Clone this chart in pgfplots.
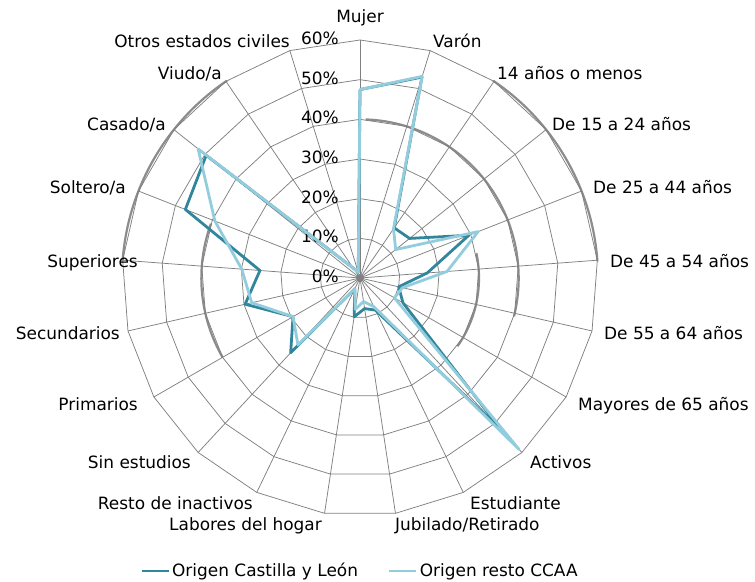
\documentclass[border=0pt]{standalone}
\usepackage{fontspec}
\setmainfont{DejaVu Sans}
\usepackage{pgfplots}
\usepackage{pgfplotstable}
\pgfplotsset{compat=1.18}
\usepgfplotslibrary{polar}
\usetikzlibrary{calc}
\definecolor{dk}{HTML}{31859C}
\definecolor{lt}{HTML}{93CDDD}
\definecolor{gr}{HTML}{808080}
\definecolor{arcc}{HTML}{8C8C8C}

\pgfplotstableread{
ang    cyl   resto
90     47.5  47.5
72.857 53.0  53.2
55.714 15.3  15.0
38.571 16.0  11.5
21.429 29.5  32.0
4.286  17.0  22.0
347.143 10.0 11.0
330    12.5  10.0
312.857 52.5 59.0
295.714 9.0  8.0
278.571 7.8  6.0
261.429 9.9  8.0
244.286 3.0  3.0
227.143 25.7 23.0
210    19.5  19.5
192.857 29.7 28.0
175.714 25.3 29.9
158.571 47.3 39.3
141.429 49.6 52.2
124.286 3.0  3.0
107.143 1.5  1.5
90     47.5  47.5
}\datatab

\newcommand{\ring}[1]{\addplot[gr, line width=0.75bp, forget plot, no marks] coordinates {(90,#1)(72.857,#1)(55.714,#1)(38.571,#1)(21.429,#1)(4.286,#1)(347.143,#1)(330,#1)(312.857,#1)(295.714,#1)(278.571,#1)(261.429,#1)(244.286,#1)(227.143,#1)(210,#1)(192.857,#1)(175.714,#1)(158.571,#1)(141.429,#1)(124.286,#1)(107.143,#1)(90,#1)};}

\begin{document}
\fontsize{17}{20}\selectfont
\begin{tikzpicture}[x=1bp,y=1bp]
\useasboundingbox (0,0) rectangle (755,582);
\begin{polaraxis}[
  at={(360bp,304bp)}, anchor=origin,
  scale only axis, width=476bp, height=476bp,
  xmin=0, xmax=360, ymin=0, ymax=60,
  hide axis, clip=false,
  legend columns=2,
  legend style={draw=none, fill=none, font=\fontsize{17}{20}\selectfont,
    at={(0.5,0)}, anchor=center, yshift=-55bp,
    /tikz/every even column/.append style={column sep=28bp},
    inner sep=0pt},
  legend image code/.code={\draw[#1] (0bp,0bp) -- (27bp,0bp);},
]
% thick gray arcs
\draw[arcc, line width=2.2bp] (axis cs:56,60) arc[start angle=56, end angle=4, radius=238bp];
\draw[arcc, line width=2.2bp] (axis cs:124,60) arc[start angle=124, end angle=176, radius=238bp];
\draw[arcc, line width=2.2bp] (axis cs:88,40) arc[start angle=88, end angle=-14, radius=158.67bp];
\draw[arcc, line width=2.2bp] (axis cs:160,40) arc[start angle=160, end angle=210, radius=158.67bp];
\draw[arcc, line width=2.2bp] (axis cs:12,30) arc[start angle=12, end angle=-35, radius=119bp];
% polygon grid
\ring{10}\ring{20}\ring{30}\ring{40}\ring{50}\ring{60}
\pgfplotsinvokeforeach{90,72.857,55.714,38.571,21.429,4.286,347.143,330,312.857,295.714,278.571,261.429,244.286,227.143,210,192.857,175.714,158.571,141.429,124.286,107.143}{
  \addplot[gr, line width=0.75bp, forget plot, no marks] coordinates {(#1,0)(#1,60)};
}
\fill[gr] (axis cs:0,0) circle[radius=4bp];
% tick labels
\pgfplotsinvokeforeach{0,10,20,30,40,50,60}{
  \node[anchor=mid east, inner sep=0pt, xshift=-21bp] at (axis cs:90,#1) {#1\%};
}
\addplot[dk, line width=2.8bp, no marks, line join=round] table[x=ang, y=cyl] {\datatab};
\addlegendentry{Origen Castilla y León}
\addplot[lt, line width=2.8bp, no marks, line join=round] table[x=ang, y=resto] {\datatab};
\addlegendentry{Origen resto CCAA}
\end{polaraxis}
\begin{scope}[every node/.style={inner sep=0pt}]
\node[anchor=center] at (360,564) {Mujer};
\node[anchor=mid west] at (433,539) {Varón};
\node[anchor=mid west] at (497,507) {14 años o menos};
\node[anchor=mid west] at (552,456) {De 15 a 24 años};
\node[anchor=mid west] at (593,393) {De 25 a 44 años};
\node[anchor=mid west] at (610,319) {De 45 a 54 años};
\node[anchor=mid west] at (604,247) {De 55 a 64 años};
\node[anchor=mid west] at (578,176) {Mayores de 65 años};
\node[anchor=mid west] at (530,118) {Activos};
\node[anchor=mid west] at (470,77) {Estudiante};
\node[anchor=mid west] at (395,56) {Jubilado/Retirado};
\node[anchor=mid east] at (322,56) {Labores del hogar};
\node[anchor=mid east] at (253,77) {Resto de inactivos};
\node[anchor=mid east] at (191,118) {Sin estudios};
\node[anchor=mid east] at (138,176) {Primarios};
\node[anchor=mid east] at (120,247) {Secundarios};
\node[anchor=mid east] at (138,319) {Superiores};
\node[anchor=mid east] at (126,393) {Soltero/a};
\node[anchor=mid east] at (166,456) {Casado/a};
\node[anchor=mid east] at (222,507) {Viudo/a};
\node[anchor=mid east] at (290,539) {Otros estados civiles};
\end{scope}
\end{tikzpicture}
\end{document}
